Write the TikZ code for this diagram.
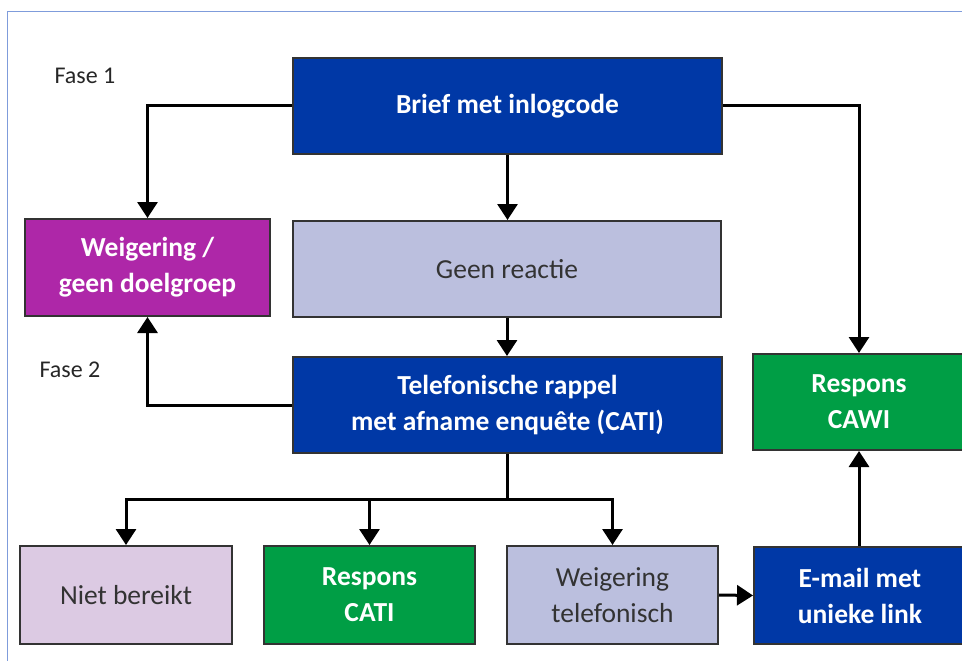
\documentclass[tikz,border=0pt]{standalone}
\usepackage{fontspec}
\setmainfont{Carlito}
\usetikzlibrary{arrows.meta}
\definecolor{dblue}{HTML}{0038A6}
\definecolor{purp}{HTML}{AE27A8}
\definecolor{lav}{HTML}{BBBFDE}
\definecolor{lilac}{HTML}{DCCAE3}
\definecolor{grn}{HTML}{009E45}
\definecolor{frame}{HTML}{7F9CDB}
\definecolor{bord}{HTML}{333333}
\begin{document}
\begin{tikzpicture}[x=1pt,y=-1pt,
  box/.style={draw=bord,line width=2pt,minimum width=#1,align=center,inner sep=0pt,
    font=\fontsize{27.5}{36}\selectfont},
  box/.default=212pt,
  dark/.style={fill=dblue,text=white,font=\fontsize{27.5}{36}\selectfont\bfseries},
  pur/.style={fill=purp,text=white,font=\fontsize{27.5}{36}\selectfont\bfseries},
  gr/.style={fill=grn,text=white,font=\fontsize{27.5}{36}\selectfont\bfseries},
  lt/.style={fill=lav,text=black!80},
  li/.style={fill=lilac,text=black!80},
  conn/.style={line width=3pt,-{Triangle[length=16pt,width=20pt]}},
  lab/.style={font=\fontsize{24}{28}\selectfont,text=black!85}]
\useasboundingbox (0,0) rectangle (962,661);
\clip (0,0) rectangle (962,661);
\draw[frame,line width=1.2pt] (7.5,661) -- (7.5,11.5) -- (962,11.5);
% nodes
\node[box=429pt,minimum height=96pt,dark] (brief) at (507.5,106) {Brief met inlogcode};
\node[box=245pt,minimum height=97pt,pur] (weig) at (147.5,267.5) {Weigering /\\geen doelgroep};
\node[box=428pt,minimum height=96pt,lt] (geen) at (507,269) {Geen reactie};
\node[box=429pt,minimum height=96pt,dark] (tel) at (507.5,405) {Telefonische rappel\\met afname enquête (CATI)};
\node[box=212pt,minimum height=96pt,gr] (cawi) at (859,402) {Respons\\CAWI};
\node[box=212pt,minimum height=98pt,li] (niet) at (126,595) {Niet bereikt};
\node[box=211pt,minimum height=98pt,gr] (cati) at (369.5,595) {Respons\\CATI};
\node[box=211pt,minimum height=98pt,lt] (wtel) at (612.5,595) {Weigering\\telefonisch};
\node[box=212pt,minimum height=97pt,dark] (mail) at (860,595.5) {E-mail met\\unieke link};
\node[lab] (f1) at (85,76) {Fase 1};
\node[lab] (f2) at (70,370) {Fase 2};
\coordinate (split) at (507.5,499);
% connectors
\draw[conn] (brief.west) -| (weig.north);
\draw[conn] (brief.south) -- (brief.south |- geen.north);
\draw[conn] (brief.east) -| (cawi.north);
\draw[conn] (geen.south) -- (geen.south |- tel.north);
\draw[conn] (tel.west) -| (weig.south);
\draw[line width=3pt] (tel.south) -- (split);
\draw[conn] (split) -| (niet.north);
\draw[conn] (split) -| (cati.north);
\draw[conn] (split) -| (wtel.north);
\draw[conn] (wtel.east) -- (mail.west);
\draw[conn] (mail.north -| cawi.south) -- (cawi.south);
\end{tikzpicture}
\end{document}
